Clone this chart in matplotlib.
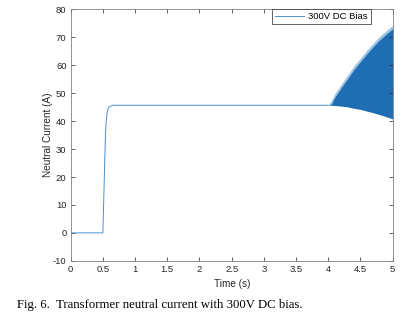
import matplotlib
matplotlib.use("Agg")
import matplotlib.pyplot as plt

# Kurve vor dem Einschwingen (Zeit in s, Strom in A)
t_line = [0, 0.5, 0.51, 0.52, 0.53, 0.54, 0.55, 0.56, 0.57, 0.58, 0.6, 0.63, 0.66, 0.7, 4.0]
i_line = [0, 0, 9, 18, 27, 35, 39.5, 42, 43.5, 44.4, 45.1, 45.5, 45.7, 45.7, 45.7]

# Einhuellende der Schwingung ab t = 4 s
t_env = [4.0, 4.05, 4.1, 4.2, 4.3, 4.4, 4.5, 4.6, 4.7, 4.8, 4.9, 5.0]
i_upper = [45.7, 47.5, 49.8, 53.2, 56.5, 59.8, 62.6, 65.4, 68.0, 70.4, 72.4, 74.3]
i_lower = [45.7, 45.7, 45.6, 45.4, 45.1, 44.6, 44.2, 43.6, 43.0, 42.3, 41.6, 40.8]

x_ticks = [0, 0.5, 1, 1.5, 2, 2.5, 3, 3.5, 4, 4.5, 5]
x_labels = ["0", "0.5", "1", "1.5", "2", "2.5", "3", "3.5", "4", "4.5", "5"]
y_ticks = [-10, 0, 10, 20, 30, 40, 50, 60, 70, 80]

blue = "#1f6eb4"
line_blue = "#4a8fcf"
grey = "#262626"

plt.rcParams["font.family"] = ["Liberation Sans", "DejaVu Sans"]
plt.rcParams["axes.unicode_minus"] = False

fig = plt.figure(figsize=(4.04, 3.15), dpi=100)
ax = fig.add_axes([0.175, 0.172, 0.797, 0.798])

ax.plot(t_line, i_line, color=line_blue, lw=0.7, label="300V DC Bias")
# Spitzen der Schwingung wirken heller
top_band = [max(l, u - 1.2) for u, l in zip(i_upper, i_lower)]
ax.fill_between(t_env, top_band, i_upper, color="#9cc2e4", lw=0)
ax.fill_between(t_env, i_lower, top_band, color=blue, lw=0)

ax.set_xlim(0, 5)
ax.set_ylim(-10, 80)
ax.set_xticks(x_ticks)
ax.set_xticklabels(x_labels)
ax.set_yticks(y_ticks)
ax.tick_params(direction="in", length=3, width=0.5, labelsize=6.8,
               colors=grey, top=True, right=True, pad=3)
for s in ax.spines.values():
    s.set_linewidth(0.6)
    s.set_color("#808080")

ax.set_xlabel("Time (s)", fontsize=7.2, color=grey)
ax.set_ylabel("Neutral Current (A)", fontsize=7.2, color=grey)
ax.xaxis.set_label_coords(0.5, -0.093, transform=ax.transAxes)
ax.yaxis.set_label_coords(-0.07, 0.5, transform=ax.transAxes)
ax.xaxis.label.set_va("center")
ax.yaxis.label.set_va("center")

leg = ax.legend(loc="upper right", bbox_to_anchor=(0.932, 1.0), borderaxespad=0,
                fontsize=6.8, fancybox=False, framealpha=1, handlelength=3.0,
                borderpad=0.3, handletextpad=0.5)
leg.get_frame().set_edgecolor(grey)
leg.get_frame().set_linewidth(0.5)

fig.text(0.042, 0.022, "Fig. 6.  Transformer neutral current with 300V DC bias.",
         fontsize=9.2, family="Liberation Serif", color="black")

fig.savefig("out.png", dpi=100)
